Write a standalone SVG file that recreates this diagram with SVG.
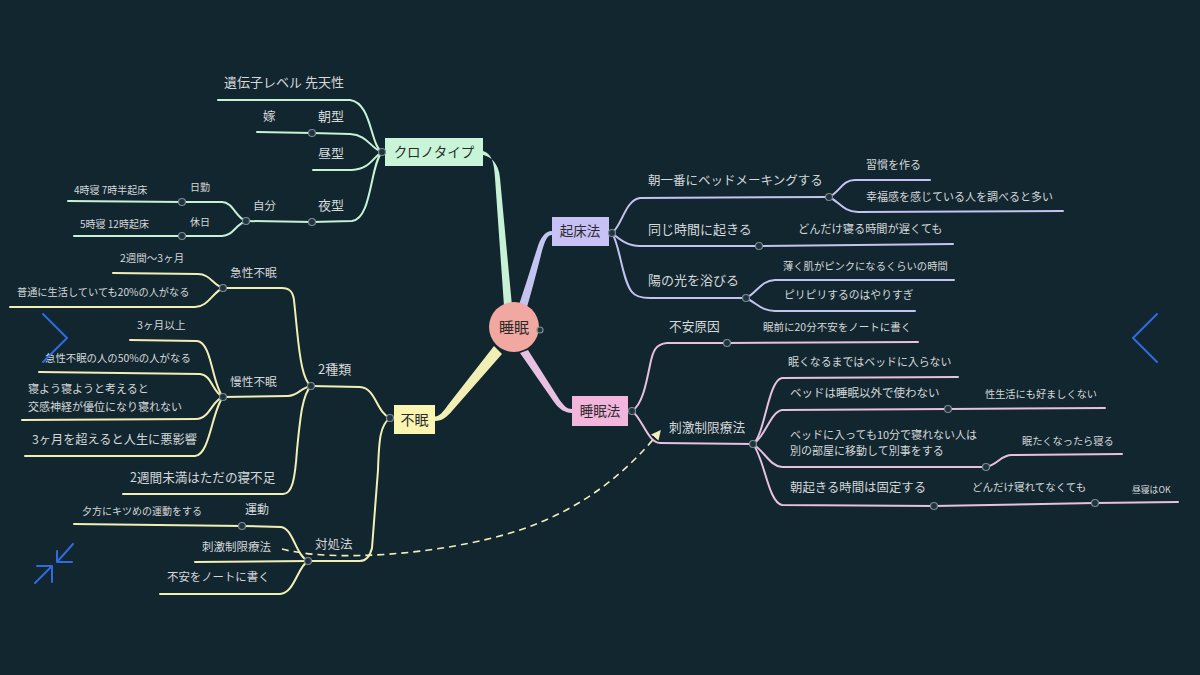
<svg xmlns="http://www.w3.org/2000/svg" width="1200" height="675" viewBox="0 0 1200 675">
<defs>
<style>
.t{font-family:"Noto Sans CJK JP","Noto Sans",sans-serif;fill:#d4d8da}
.bt{font-family:"Noto Sans CJK JP","Noto Sans",sans-serif;fill:#2a2a2a}
.ln{fill:none;stroke-width:2;stroke-linecap:round;stroke-linejoin:round}
.g{stroke:#c8f2d6}
.p{stroke:#c4c4f0}
.y{stroke:#f2efb4}
.k{stroke:#e8c0e2}
.dot{fill:#1e333c;stroke:#7d8c92;stroke-width:1.2}
.nav{fill:none;stroke:#2f6bdc;stroke-width:2;stroke-linecap:round;stroke-linejoin:round}
</style>
<marker id="ah" viewBox="0 0 10 10" refX="2" refY="5" markerWidth="6" markerHeight="6" orient="auto">
<path d="M0,0 L10,5 L0,10 Z" fill="#f2eebc"/>
</marker>
</defs>
<rect width="1200" height="675" fill="#12262f"/>

<g id="connectors">
<!-- main tapered -->
<path d="M504,306 L495,178 C494,162 492,154 483,151 L483,155 C490,156 499,163 500,178 L512,306 Z" fill="#c8f2d6"/>
<path d="M519,305 C526,284 533,261 537,249 C540,238 545,231 552,231 L552,235 C547,235 545,241 542,251 C539,263 533,287 527,307 Z" fill="#c4c4f0"/>
<path d="M494,346 L448,405 C443,412 440,416 435,416.5 L435,421 C442,421 447,417 452,411 L502,354 Z" fill="#f2efb4"/>
<path d="M520,353 L554,402 C559,409 565,413 572,413 L572,409 C567,409 564,406 559,399 L528,350 Z" fill="#e8c0e2"/>

<!-- chronotype -->
<path class="ln g" d="M382,152 C370,145 372,103 350,100 L218,100"/>
<path class="ln g" d="M382,152 C370,148 368,135 350,134 L312,133 L257,132"/>
<path class="ln g" d="M382,152 C372,158 370,169 352,170 L313,170"/>
<path class="ln g" d="M382,152 C370,165 372,219 352,221 L312,222 L246,221"/>
<path class="ln g" d="M246,221 C236,218 233,202 222,202 L182,202 L68,201"/>
<path class="ln g" d="M246,221 C236,224 233,236 222,236 L182,236 L74,236"/>

<!-- insomnia -->
<path class="ln y" d="M390,418 C376,412 376,388 360,387 L311,386"/>
<path class="ln y" d="M390,418 C380,425 379,440 378,470 L372,548 C370,556 366,561 360,561 L308,561"/>
<path class="ln y" d="M311,386 C303,380 300,360 297,330 L294,300 C293,292 290,288 282,288 L223,288"/>
<path class="ln y" d="M311,386 C300,388 298,396 288,396 L223,397"/>
<path class="ln y" d="M311,386 C302,395 300,420 297,450 C295,480 292,494 283,494 L123,494"/>
<path class="ln y" d="M223,288 C213,285 210,274 198,274 L113,273"/>
<path class="ln y" d="M223,288 C213,292 208,307 195,307 L10,307"/>
<path class="ln y" d="M223,397 C212,385 212,342 197,341 L130,340"/>
<path class="ln y" d="M223,397 C212,392 212,375 200,374 L39,372"/>
<path class="ln y" d="M223,397 C212,400 210,419 196,419 L22,420"/>
<path class="ln y" d="M223,397 C212,410 210,455 195,456 L25,456"/>
<path class="ln y" d="M308,561 C296,556 293,528 281,527 L242,526 L74,524"/>
<path class="ln y" d="M308,561 L195,562"/>
<path class="ln y" d="M308,561 C298,566 294,594 280,594 L160,594"/>

<!-- wake-up -->
<path class="ln p" d="M612,233 C622,226 625,200 640,198 L829,197"/>
<path class="ln p" d="M829,197 C840,192 842,180 855,180 L930,180"/>
<path class="ln p" d="M829,197 C840,202 842,211 858,212 L1063,211"/>
<path class="ln p" d="M612,233 C620,240 628,246 640,246 L759,246 L953,244"/>
<path class="ln p" d="M612,233 C620,245 622,280 632,292 C635,296 640,298 650,298 L746,298"/>
<path class="ln p" d="M746,298 C758,292 760,281 775,280 L954,280"/>
<path class="ln p" d="M746,298 C758,304 762,311 775,311 L915,311"/>

<!-- sleep method -->
<path class="ln k" d="M632,411 C642,405 646,385 650,365 C653,350 656,344 667,343 L727,343 L918,342"/>
<path class="ln k" d="M632,411 C642,418 648,443 660,443 L753,444"/>
<path class="ln k" d="M753,444 C765,435 768,380 782,378 L958,377"/>
<path class="ln k" d="M753,444 C765,438 770,412 782,410 L948,409 L1105,408"/>
<path class="ln k" d="M753,444 C765,452 770,466 782,467 L986,467 C998,465 1000,455 1012,455 L1122,454"/>
<path class="ln k" d="M753,444 C765,460 768,502 782,505 L934,506 L1095,503 L1178,502"/>

<!-- dashed relation -->
<path d="M282,549 C330,562 440,556 520,530 C585,508 628,470 656,436" fill="none" stroke="#f2eebc" stroke-width="1.6" stroke-dasharray="7 5" marker-end="url(#ah)"/>

<!-- junction dots -->
<circle class="dot" cx="312" cy="133" r="3.5"/>
<circle class="dot" cx="312" cy="222" r="3.5"/>
<circle class="dot" cx="246" cy="221" r="3.5"/>
<circle class="dot" cx="182" cy="202" r="3.5"/>
<circle class="dot" cx="182" cy="236" r="3.5"/>
<circle class="dot" cx="311" cy="386" r="3.5"/>
<circle class="dot" cx="223" cy="288" r="3.5"/>
<circle class="dot" cx="223" cy="397" r="3.5"/>
<circle class="dot" cx="308" cy="561" r="3.5"/>
<circle class="dot" cx="242" cy="526" r="3.5"/>
<circle class="dot" cx="829" cy="197" r="3.5"/>
<circle class="dot" cx="759" cy="246" r="3.5"/>
<circle class="dot" cx="746" cy="298" r="3.5"/>
<circle class="dot" cx="727" cy="343" r="3.5"/>
<circle class="dot" cx="753" cy="444" r="3.5"/>
<circle class="dot" cx="948" cy="409" r="3.5"/>
<circle class="dot" cx="986" cy="467" r="3.5"/>
<circle class="dot" cx="934" cy="506" r="3.5"/>
<circle class="dot" cx="1095" cy="503" r="3.5"/>
</g>

<g id="root">
<circle cx="514" cy="327" r="25" fill="#f0a8a0"/>
<text class="bt" x="514" y="333" font-size="15" text-anchor="middle">睡眠</text>
<circle class="dot" cx="540" cy="330" r="3"/>
</g>

<g id="chronotype">
<rect x="385" y="138" width="98" height="28" fill="#c8f5d8"/>
<text class="bt" x="434" y="157" font-size="13.5" text-anchor="middle">クロノタイプ</text>
<circle class="dot" cx="382" cy="152" r="3.5"/>
<text class="t" x="224" y="87" font-size="13">遺伝子レベル 先天性</text>
<text class="t" x="263" y="121" font-size="12.5">嫁</text>
<text class="t" x="318" y="121" font-size="13">朝型</text>
<text class="t" x="318" y="158" font-size="13">昼型</text>
<text class="t" x="318" y="210" font-size="13">夜型</text>
<text class="t" x="253" y="210" font-size="11.5">自分</text>
<text class="t" x="190" y="191" font-size="10">日勤</text>
<text class="t" x="190" y="226" font-size="10">休日</text>
<text class="t" x="74" y="194" font-size="10">4時寝 7時半起床</text>
<text class="t" x="80" y="228" font-size="10">5時寝 12時起床</text>
</g>

<g id="wakeup">
<rect x="552" y="217" width="57" height="29" fill="#c7c1f6"/>
<text class="bt" x="580" y="236" font-size="13.5" text-anchor="middle">起床法</text>
<circle class="dot" cx="612" cy="233" r="3.5"/>
<text class="t" x="648" y="185" font-size="12.5">朝一番にベッドメーキングする</text>
<text class="t" x="866" y="169" font-size="11">習慣を作る</text>
<text class="t" x="866" y="201" font-size="11">幸福感を感じている人を調べると多い</text>
<text class="t" x="648" y="234" font-size="13">同じ時間に起きる</text>
<text class="t" x="798" y="233" font-size="11.2">どんだけ寝る時間が遅くても</text>
<text class="t" x="648" y="285" font-size="13">陽の光を浴びる</text>
<text class="t" x="783" y="270" font-size="10.3">薄く肌がピンクになるくらいの時間</text>
<text class="t" x="784" y="299" font-size="10.8">ピリピリするのはやりすぎ</text>
</g>

<g id="insomnia">
<rect x="394" y="405" width="41" height="29" fill="#fbf5b2"/>
<text class="bt" x="414.5" y="425" font-size="14" text-anchor="middle">不眠</text>
<circle class="dot" cx="390" cy="418" r="3.5"/>
<text class="t" x="318" y="374" font-size="13">2種類</text>
<text class="t" x="230" y="277" font-size="11.7">急性不眠</text>
<text class="t" x="120" y="262" font-size="10.5">2週間〜3ヶ月</text>
<text class="t" x="17" y="296" font-size="10.2">普通に生活していても20%の人がなる</text>
<text class="t" x="230" y="386" font-size="11.7">慢性不眠</text>
<text class="t" x="137" y="329" font-size="10.7">3ヶ月以上</text>
<text class="t" x="45" y="362" font-size="10.4">急性不眠の人の50%の人がなる</text>
<text class="t" x="28" y="393" font-size="11">寝よう寝ようと考えると</text>
<text class="t" x="28" y="411" font-size="11">交感神経が優位になり寝れない</text>
<text class="t" x="32" y="444" font-size="12.2">3ヶ月を超えると人生に悪影響</text>
<text class="t" x="130" y="482" font-size="12.6">2週間未満はただの寝不足</text>
<text class="t" x="315" y="549" font-size="12.5">対処法</text>
<text class="t" x="245" y="514" font-size="12">運動</text>
<text class="t" x="82" y="515" font-size="10">夕方にキツめの運動をする</text>
<text class="t" x="202" y="551" font-size="11.5">刺激制限療法</text>
<text class="t" x="167" y="581" font-size="11.4">不安をノートに書く</text>
</g>

<g id="sleepmethod">
<rect x="572" y="396" width="56" height="30" fill="#f2b5dc"/>
<text class="bt" x="600" y="416" font-size="13.5" text-anchor="middle">睡眠法</text>
<circle class="dot" cx="632" cy="411" r="3.5"/>
<text class="t" x="669" y="331" font-size="12.7">不安原因</text>
<text class="t" x="763" y="331" font-size="10.5">眠前に20分不安をノートに書く</text>
<text class="t" x="669" y="432" font-size="12.7">刺激制限療法</text>
<text class="t" x="788" y="366" font-size="10.9">眠くなるまではベッドに入らない</text>
<text class="t" x="790" y="397" font-size="11.5">ベッドは睡眠以外で使わない</text>
<text class="t" x="985" y="398" font-size="10.2">性生活にも好ましくない</text>
<text class="t" x="790" y="439" font-size="11">ベッドに入っても10分で寝れない人は</text>
<text class="t" x="790" y="455" font-size="11">別の部屋に移動して別事をする</text>
<text class="t" x="1022" y="445" font-size="10.2">眠たくなったら寝る</text>
<text class="t" x="790" y="492" font-size="12.4">朝起きる時間は固定する</text>
<text class="t" x="972" y="491" font-size="10.5">どんだけ寝れてなくても</text>
<text class="t" x="1132" y="493" font-size="8.8">昼寝はOK</text>
</g>

<g id="navigation">
<path class="nav" d="M43,314 L67,338 L43,362"/>
<path class="nav" d="M1157,314 L1133,338 L1157,362"/>
<path class="nav" d="M73,544 L57,562 M57,551 L57,562 L72,562"/>
<path class="nav" d="M35,583 L52,566 M37,566 L52,566 L52,582"/>
</g>
</svg>
